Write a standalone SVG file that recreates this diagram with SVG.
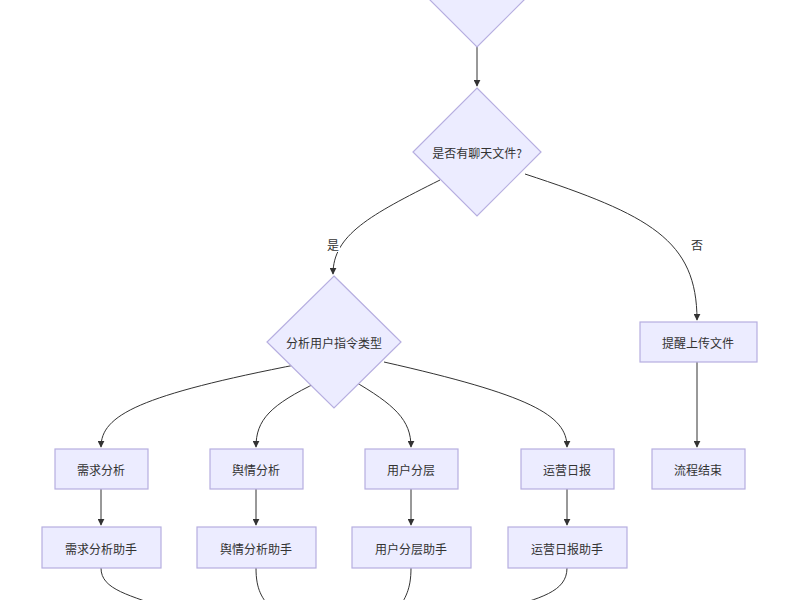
<svg xmlns="http://www.w3.org/2000/svg" width="800" height="600" viewBox="0 0 800 600">
<style>
.n{fill:#ECECFF;stroke:#b6aee0;stroke-width:1.2}
.t{font-family:"Noto Sans CJK SC","Liberation Sans",sans-serif;font-size:12px;fill:#333;text-anchor:middle;dominant-baseline:central}
.e{fill:none;stroke:#333;stroke-width:1}
</style>
<defs><marker id="a" viewBox="0 0 10 10" refX="9" refY="5" markerWidth="7" markerHeight="7" orient="auto"><path d="M0,0L10,5L0,10z" fill="#333"/></marker></defs>
<rect width="800" height="600" fill="#fff"/>
<g id="edges">
<path class="e" marker-end="url(#a)" d="M477,47L477,86"/>
<path class="e" marker-end="url(#a)" d="M440,180C370,215 333,235 333,274"/>
<path class="e" marker-end="url(#a)" d="M525,174C650,215 697,240 697,320"/>
<path class="e" marker-end="url(#a)" d="M300,364C140,395 101,415 101,447"/>
<path class="e" marker-end="url(#a)" d="M318,382C270,405 256,420 256,447"/>
<path class="e" marker-end="url(#a)" d="M352,380C395,405 411,420 411,447"/>
<path class="e" marker-end="url(#a)" d="M384,362C530,395 567,415 567,447"/>
<path class="e" marker-end="url(#a)" d="M697,362L697,447"/>
<path class="e" marker-end="url(#a)" d="M101,489L101,525"/>
<path class="e" marker-end="url(#a)" d="M256,489L256,525"/>
<path class="e" marker-end="url(#a)" d="M411,489L411,525"/>
<path class="e" marker-end="url(#a)" d="M567,489L567,525"/>
<path class="e" d="M101,568C101,590 130,595 170,610"/>
<path class="e" d="M256,568C256,590 262,598 272,610"/>
<path class="e" d="M411,568C411,590 405,598 398,610"/>
<path class="e" d="M567,568C567,592 540,598 500,610"/>
<rect x="326" y="236" width="14" height="16" fill="#fff"/>
<text class="t" x="333" y="244">是</text>
<rect x="690" y="236" width="14" height="16" fill="#fff"/>
<text class="t" x="697" y="244">否</text>
</g>
<g id="d1"><polygon class="n" points="477,-53 527,-3 477,47 427,-3"/></g>
<g id="d2"><polygon class="n" points="477,88 541,152 477,216 413,152"/><text class="t" x="477" y="152">是否有聊天文件?</text></g>
<g id="d3"><polygon class="n" points="334,276 401,342 334,408 267,342"/><text class="t" x="334" y="342">分析用户指令类型</text></g>
<g id="upload"><rect class="n" x="640" y="322" width="117" height="40"/><text class="t" x="698" y="342">提醒上传文件</text></g>
<g id="end"><rect class="n" x="652" y="449" width="93" height="40"/><text class="t" x="698" y="469">流程结束</text></g>
<g id="b1"><rect class="n" x="55" y="449" width="93" height="40"/><text class="t" x="101" y="469">需求分析</text></g>
<g id="b2"><rect class="n" x="210" y="449" width="93" height="40"/><text class="t" x="256" y="469">舆情分析</text></g>
<g id="b3"><rect class="n" x="365" y="449" width="93" height="40"/><text class="t" x="411" y="469">用户分层</text></g>
<g id="b4"><rect class="n" x="521" y="449" width="93" height="40"/><text class="t" x="567" y="469">运营日报</text></g>
<g id="c1"><rect class="n" x="42" y="527" width="119" height="41"/><text class="t" x="101" y="548">需求分析助手</text></g>
<g id="c2"><rect class="n" x="197" y="527" width="119" height="41"/><text class="t" x="256" y="548">舆情分析助手</text></g>
<g id="c3"><rect class="n" x="352" y="527" width="119" height="41"/><text class="t" x="411" y="548">用户分层助手</text></g>
<g id="c4"><rect class="n" x="508" y="527" width="119" height="41"/><text class="t" x="567" y="548">运营日报助手</text></g>
</svg>
